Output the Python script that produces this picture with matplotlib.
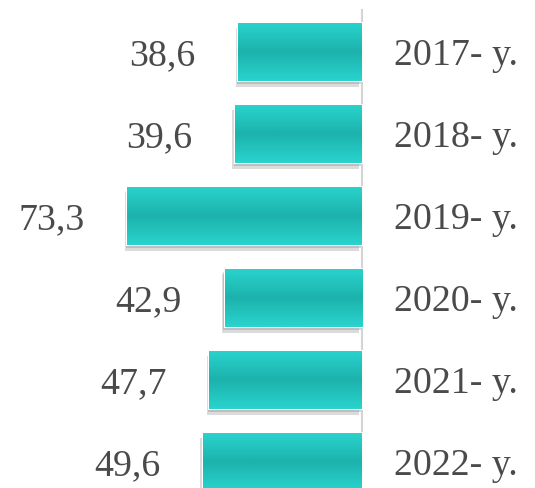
import matplotlib.pyplot as plt
import matplotlib.patheffects as pe
import numpy as np
from matplotlib.colors import LinearSegmentedColormap

years = ["2017- y.", "2018- y.", "2019- y.", "2020- y.", "2021- y.", "2022- y."]
values = [38.6, 39.6, 73.3, 42.9, 47.7, 49.6]
value_labels = ["38,6", "39,6", "73,3", "42,9", "47,7", "49,6"]

plt.rcParams['font.family'] = ['Liberation Serif', 'DejaVu Serif']

fig = plt.figure(figsize=(5.35, 4.88), dpi=100)
ax = fig.add_axes([0, 0, 1, 1])
ax.set_xlim(113.1, -54.06)
ax.set_ylim(5.317, -0.634)
ax.axis('off')

# vertical baseline
ax.plot([0, 0], [-0.512, 5.317], color='#d4d4d4', lw=1.5, zorder=1)

# lighter at top and bottom, darker in the middle
cmap = LinearSegmentedColormap.from_list('teal', ['#2ad3cd', '#1db3ad'])
shade = (1 - np.abs(np.linspace(-1, 1, 50))).reshape(-1, 1)

y = np.arange(len(values))
bars = ax.barh(y, values, height=0.71, color='#22bdb7', edgecolor='white',
               linewidth=1.5, zorder=2)
for b in bars:
    b.set_path_effects([
        pe.SimplePatchShadow(offset=(-2, -4), shadow_rgbFace='#999999', alpha=0.35),
        pe.SimplePatchShadow(offset=(-1, -2), shadow_rgbFace='#888888', alpha=0.35),
        pe.Normal()])
    x0, y0 = b.get_x(), b.get_y()
    w, h = b.get_width(), b.get_height()
    im = ax.imshow(shade, cmap=cmap, aspect='auto', extent=[x0, x0 + w, y0 + h, y0],
                   zorder=3, interpolation='bilinear')
    im.set_clip_path(b)

for i, (v, lab) in enumerate(zip(values, value_labels)):
    ax.text(v + 13.4, i + 0.159, lab, ha='right', va='baseline', fontsize=27.3, color='#4a4a4a')
    ax.text(-9.9, i + 0.159, years[i], ha='left', va='baseline', fontsize=27.3, color='#4a4a4a')

fig.savefig('out.png', dpi=100)
